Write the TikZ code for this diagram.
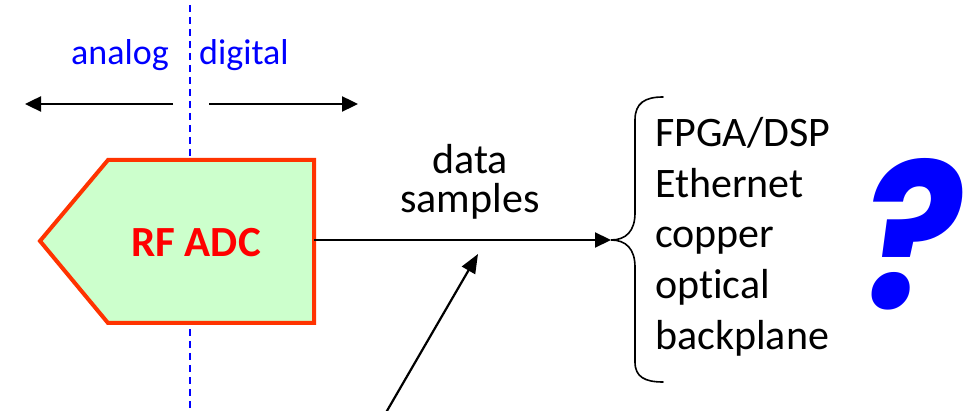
\documentclass[tikz,border=0pt]{standalone}
\usepackage{fontspec}
\setmainfont{Carlito}[Ligatures={NoCommon}]
\newfontfamily\queryfont{Poppins}
\usetikzlibrary{arrows.meta}

\definecolor{adcfill}{HTML}{CCFFCC}
\definecolor{adcline}{HTML}{FF3300}
\definecolor{markblue}{HTML}{0000FF}

\tikzset{
  item/.style={inner sep=0pt, font=\fontsize{42}{51}\selectfont},
  sidelabel/.style={inner sep=0pt, text=markblue, font=\fontsize{36}{44}\selectfont},
  arr/.style={line width=2.4pt, -{Triangle[length=16pt,width=15pt]}},
  divider/.style={markblue, line width=2pt, dash pattern=on 7pt off 5pt},
  adcbox/.style={draw=adcline, fill=adcfill, line width=4pt, line join=miter},
  brace/.style={line width=1.6pt, line cap=round}
}

\begin{document}
\begin{tikzpicture}[x=1pt, y=-1pt]
\useasboundingbox (0,0) rectangle (964,411);

% analog / digital divider
\coordinate (divtop) at (190,5);
\coordinate (divbot) at (190,411);
\draw[divider] (divtop) -- (divbot);

\node[sidelabel, anchor=base west] (analog) at (71,65) {analog};
\node[sidelabel, anchor=base west] (digital) at (199,65) {digital};

\coordinate (lstart) at (173,104);
\coordinate (lend) at (25,104);
\coordinate (rstart) at (209,104);
\coordinate (rend) at (358,104);
\draw[arr] (lstart) -- (lend);
\draw[arr] (rstart) -- (rend);

% converter block
\coordinate (tip) at (40,241);
\coordinate (tl) at (108,160);
\coordinate (tr) at (314,160);
\coordinate (br) at (314,323);
\coordinate (bl) at (108,323);
\draw[adcbox] (tip) -- (tl) -- (tr) -- (br) -- (bl) -- cycle;
\node[inner sep=0pt, anchor=base, text=red, font=\fontsize{43}{50}\selectfont\bfseries] (adc) at (196,257) {RF ADC};

% data path
\coordinate (adcout) at (314,240);
\coordinate (bracetip) at (611,240);
\draw[arr, line width=2.2pt] (adcout) -- (bracetip);
\node[item, anchor=base] (data) at (470,174) {data};
\node[item, anchor=base] (samples) at (470,213) {samples};

% incoming pointer
\coordinate (feedbase) at (384,416);
\coordinate (feedtip) at (478,254);
\draw[arr, line width=2.2pt, -{Triangle[length=19pt,width=15pt]}] (feedbase) -- (feedtip);

% brace and options
\draw[brace] (663,97) .. controls (645,97) and (635,103) .. (635,120)
  -- (635,213) .. controls (635,231) and (626,240) .. (bracetip)
  .. controls (626,240) and (635,249) .. (635,267)
  -- (635,362) .. controls (635,377) and (645,382) .. (663,382);

\node[item, anchor=base west] (opt1) at (655,147) {FPGA/DSP};
\node[item, anchor=base west] (opt2) at (655,198) {Ethernet};
\node[item, anchor=base west] (opt3) at (655,248) {copper};
\node[item, anchor=base west] (opt4) at (655,299) {optical};
\node[item, anchor=base west] (opt5) at (655,350) {backplane};

\node[inner sep=0pt, text=markblue] (query) at (911,234)
  {\resizebox{100pt}{150pt}{\queryfont\bfseries\itshape ?}};
\end{tikzpicture}
\end{document}
